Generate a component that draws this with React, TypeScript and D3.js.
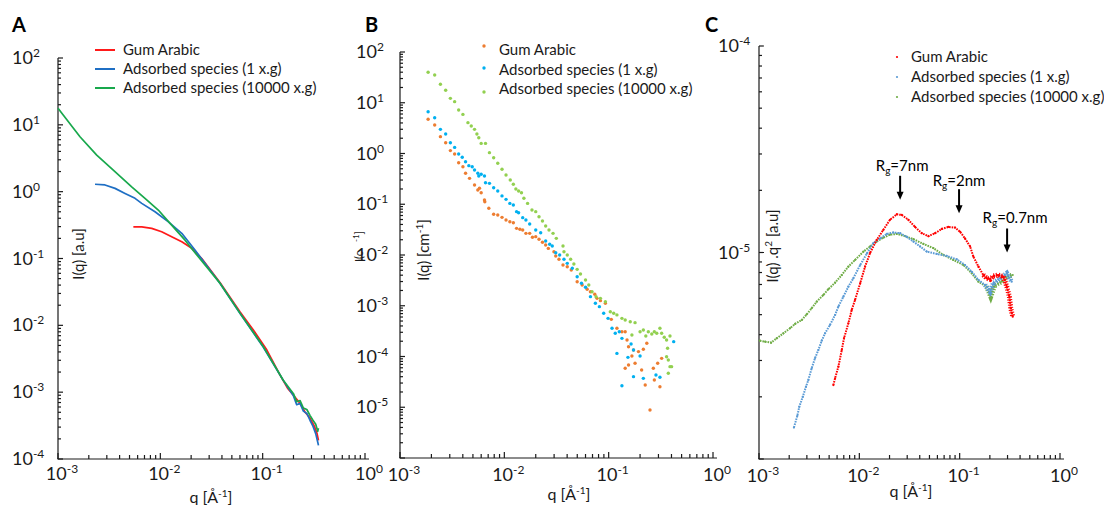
import React from "react";
import * as d3 from "d3";

type Pt = [number, number];

const seriesNames = [
  "Gum Arabic",
  "Adsorbed species (1 x.g)",
  "Adsorbed species (10000 x.g)",
];
const decadeLabels = [-3, -2, -1, 0];

/* A : I(q) [a.u], lines */
const aGumArabic: Pt[] = [
  [0.00545, 0.298], [0.00658, 0.298], [0.00824, 0.282], [0.0103, 0.251], [0.0129, 0.211],
  [0.0162, 0.178], [0.0203, 0.142], [0.0254, 0.1], [0.0384, 0.0435], [0.0602, 0.0158],
  [0.0811, 0.0085], [0.1096, 0.0043], [0.148, 0.0018], [0.175, 0.00115], [0.2, 0.0009],
  [0.232, 0.00068], [0.26, 0.0005], [0.29, 0.00041], [0.32, 0.00031], [0.34, 0.00024],
  [0.351, 0.00019],
];
const aSpecies1: Pt[] = [
  [0.0023, 1.29], [0.00288, 1.26], [0.00361, 1.12], [0.00452, 0.942], [0.00566, 0.794],
  [0.00658, 0.668], [0.00887, 0.5], [0.012, 0.354], [0.0162, 0.238], [0.0218, 0.134],
  [0.0384, 0.0422], [0.0602, 0.015], [0.1016, 0.0047], [0.159, 0.0015], [0.2, 0.00088],
  [0.215, 0.00065], [0.232, 0.00068], [0.25, 0.00052], [0.27, 0.00048], [0.29, 0.00038],
  [0.31, 0.00031], [0.33, 0.00024], [0.345, 0.00018], [0.351, 0.00016],
];
const aSpecies10000: Pt[] = [
  [0.001, 17.7], [0.00164, 6.64], [0.00239, 3.53], [0.00347, 2.1], [0.00525, 1.18],
  [0.00708, 0.794], [0.00955, 0.531], [0.01245, 0.335], [0.01743, 0.188], [0.0235, 0.106],
  [0.0384, 0.0424], [0.0602, 0.0151], [0.1016, 0.00477], [0.159, 0.00151], [0.2, 0.00095],
  [0.215, 0.00072], [0.232, 0.00075], [0.25, 0.00058], [0.27, 0.00055], [0.29, 0.00045],
  [0.31, 0.00038], [0.33, 0.00033], [0.345, 0.00026], [0.351, 0.00029],
];

/* B : I(q) [cm-1], scatter */
const bGumArabic: Pt[] = [
  [0.00186, 4.72], [0.00215, 3.65], [0.00244, 2.15], [0.00274, 1.63], [0.00304, 1.14],
  [0.00334, 0.977], [0.00365, 0.659], [0.00401, 0.55], [0.00425, 0.407], [0.00464, 0.324],
  [0.00518, 0.239], [0.00557, 0.191], [0.00578, 0.206], [0.006, 0.169], [0.00645, 0.121],
  [0.0065, 0.112], [0.0071, 0.0832], [0.0079, 0.0634], [0.00865, 0.0614], [0.0095, 0.0552],
  [0.01038, 0.049], [0.0113, 0.0453], [0.0122, 0.0433], [0.0131, 0.0335], [0.0141, 0.0321],
  [0.015, 0.0311], [0.0161, 0.0267], [0.0175, 0.0267], [0.0186, 0.0223], [0.02, 0.023],
  [0.0215, 0.0204], [0.0232, 0.0178], [0.0249, 0.0157], [0.0264, 0.0135], [0.0299, 0.0116],
  [0.0311, 0.00955], [0.0334, 0.00822], [0.0365, 0.00635], [0.0401, 0.00588], [0.0438, 0.00506],
  [0.0499, 0.00298], [0.0557, 0.00256], [0.0622, 0.00211], [0.0669, 0.00189], [0.0736, 0.00168],
  [0.0774, 0.0014], [0.0834, 0.00126], [0.093, 0.00112], [0.106, 0.00054], [0.12, 0.00036],
  [0.134, 0.000308], [0.144, 0.000308], [0.15, 0.000211], [0.155, 0.000156], [0.173, 0.000134],
  [0.167, 0.000102], [0.193, 0.000125], [0.215, 0.000139], [0.232, 0.000182], [0.144, 0.0000585],
  [0.155, 0.0000681], [0.179, 0.0000735], [0.207, 0.0000542], [0.224, 0.0000274], [0.268, 0.0000585],
  [0.274, 0.0000344], [0.295, 0.0000735], [0.31, 0.0000254], [0.322, 0.000092], [0.249, 0.0000088],
];
const bSpecies1: Pt[] = [
  [0.00186, 6.67], [0.00215, 5.08], [0.00244, 2.99], [0.00274, 2.42], [0.00304, 1.63],
  [0.00334, 1.32], [0.00365, 0.977], [0.00395, 0.841], [0.00425, 0.69], [0.00457, 0.576],
  [0.00492, 0.55], [0.00518, 0.473], [0.00557, 0.407], [0.00569, 0.36], [0.006, 0.389],
  [0.00645, 0.36], [0.0066, 0.266], [0.0072, 0.258], [0.0079, 0.212], [0.00865, 0.182],
  [0.0095, 0.146], [0.01038, 0.125], [0.0113, 0.104], [0.0122, 0.0966], [0.0131, 0.0715],
  [0.0137, 0.0682], [0.015, 0.0545], [0.0161, 0.049], [0.0175, 0.0408], [0.02, 0.0311],
  [0.0223, 0.0275], [0.0249, 0.0189], [0.0272, 0.0163], [0.0288, 0.015], [0.0311, 0.0111],
  [0.0339, 0.01], [0.0373, 0.00822], [0.0401, 0.00685], [0.0448, 0.00547], [0.0499, 0.00374],
  [0.0549, 0.00277], [0.06, 0.00231], [0.0669, 0.00151], [0.0746, 0.00112], [0.0815, 0.00096],
  [0.0896, 0.00071], [0.0986, 0.000565], [0.1077, 0.00036], [0.1157, 0.000287], [0.1264, 0.000308],
  [0.134, 0.000228], [0.12, 0.000115], [0.153, 0.0000962], [0.164, 0.000176], [0.173, 0.000134],
  [0.2, 0.000102], [0.173, 0.0000401], [0.215, 0.0000371], [0.134, 0.0000266], [0.284, 0.0000432],
  [0.31, 0.0000389], [0.42, 0.000196],
];
const bSpecies10000: Pt[] = [
  [0.00186, 39.8], [0.00215, 35.2], [0.00244, 23.1], [0.00274, 17.6], [0.00304, 12.2],
  [0.00334, 10.5], [0.00365, 7.2], [0.00401, 5.9], [0.00448, 4.05], [0.00482, 3.48],
  [0.00518, 2.99], [0.00546, 2.42], [0.00569, 2.05], [0.006, 1.58], [0.0066, 1.58],
  [0.0072, 1.04], [0.0079, 0.827], [0.00865, 0.641], [0.0095, 0.489], [0.01038, 0.377],
  [0.0114, 0.301], [0.0122, 0.247], [0.0129, 0.2], [0.0137, 0.182], [0.0146, 0.169],
  [0.0154, 0.131], [0.0167, 0.104], [0.0184, 0.077], [0.02, 0.0715], [0.0215, 0.0569],
  [0.0232, 0.0468], [0.0249, 0.0372], [0.0268, 0.0311], [0.0293, 0.0267], [0.0315, 0.0213],
  [0.0365, 0.015], [0.0373, 0.0116], [0.0401, 0.01], [0.0432, 0.00822], [0.0464, 0.00665],
  [0.0499, 0.00522], [0.0537, 0.00423], [0.06, 0.00322], [0.0645, 0.00256], [0.0693, 0.00189],
  [0.0757, 0.00151], [0.0834, 0.0014], [0.093, 0.0012], [0.1037, 0.00076], [0.1117, 0.00071],
  [0.12, 0.00066], [0.134, 0.000565], [0.144, 0.000524], [0.161, 0.000485], [0.179, 0.000464],
  [0.167, 0.000265], [0.2, 0.000308], [0.215, 0.000333], [0.227, 0.000254], [0.24, 0.000308],
  [0.259, 0.000277], [0.274, 0.000308], [0.289, 0.000287], [0.31, 0.00036], [0.322, 0.000287],
  [0.341, 0.000239], [0.359, 0.000211], [0.387, 0.000254], [0.367, 0.000145], [0.359, 0.0000991],
  [0.373, 0.0000853], [0.387, 0.0000631], [0.373, 0.0000467], [0.401, 0.0000631],
];

/* C : I(q).q^2 [a.u] */
const cGumArabic: Pt[] = [
  [0.00551, 2.28e-6], [0.00573, 2.46e-6], [0.00618, 2.8e-6], [0.00668, 3.37e-6], [0.00704, 3.85e-6],
  [0.00777, 4.54e-6], [0.0084, 5.27e-6], [0.00906, 5.89e-6], [0.0102, 7.1e-6], [0.0114, 8.54e-6],
  [0.0128, 9.95e-6], [0.0149, 1.15e-5], [0.0173, 1.285e-5], [0.0202, 1.44e-5], [0.0236, 1.53e-5],
  [0.0265, 1.52e-5], [0.0308, 1.44e-5], [0.0359, 1.33e-5], [0.0419, 1.24e-5], [0.0488, 1.2e-5],
  [0.0569, 1.24e-5], [0.0663, 1.3e-5], [0.0771, 1.33e-5], [0.09, 1.32e-5], [0.101, 1.26e-5],
  [0.113, 1.17e-5], [0.127, 1.07e-5], [0.137, 9.55e-6], [0.154, 8.54e-6], [0.172, 7.78e-6],
  [0.186, 7.5e-6], [0.201, 7.41e-6], [0.217, 7.69e-6], [0.243, 7.78e-6], [0.273, 7.64e-6],
  [0.295, 6.83e-6], [0.313, 6.11e-6], [0.323, 5.37e-6], [0.338, 4.89e-6],
];
const cSpecies1: Pt[] = [
  [0.00223, 1.42e-6], [0.00241, 1.62e-6], [0.00252, 1.79e-6], [0.00273, 2.0e-6], [0.00294, 2.24e-6],
  [0.0031, 2.41e-6], [0.00335, 2.75e-6], [0.00362, 3.08e-6], [0.0039, 3.37e-6], [0.00422, 3.74e-6],
  [0.00455, 4.06e-6], [0.0051, 4.46e-6], [0.00573, 4.98e-6], [0.00618, 5.47e-6], [0.00693, 6.11e-6],
  [0.00777, 6.83e-6], [0.00871, 7.5e-6], [0.0102, 8.7e-6], [0.0119, 9.9e-6], [0.0138, 1.11e-5],
  [0.0161, 1.17e-5], [0.0188, 1.23e-5], [0.0218, 1.25e-5], [0.0255, 1.24e-5], [0.0297, 1.19e-5],
  [0.0346, 1.13e-5], [0.0403, 1.07e-5], [0.047, 1.01e-5], [0.0592, 9.84e-6], [0.0743, 9.62e-6],
  [0.0936, 9.27e-6], [0.113, 8.7e-6], [0.132, 8.07e-6], [0.154, 7.36e-6], [0.179, 6.97e-6],
  [0.201, 6.46e-6], [0.217, 7.1e-6], [0.253, 7.5e-6], [0.295, 7.93e-6], [0.33, 7.22e-6],
];
const cSpecies10000: Pt[] = [
  [0.00102, 3.74e-6], [0.00115, 3.7e-6], [0.00132, 3.66e-6], [0.0015, 3.84e-6], [0.00175, 4.06e-6],
  [0.00204, 4.3e-6], [0.00229, 4.51e-6], [0.00267, 4.71e-6], [0.00299, 5.02e-6], [0.00335, 5.37e-6],
  [0.00376, 5.78e-6], [0.00438, 6.23e-6], [0.00491, 6.64e-6], [0.00573, 7.14e-6], [0.00668, 7.78e-6],
  [0.00777, 8.54e-6], [0.00906, 9.2e-6], [0.011, 1.01e-5], [0.0128, 1.07e-5], [0.0149, 1.13e-5],
  [0.0173, 1.18e-5], [0.0202, 1.22e-5], [0.0236, 1.23e-5], [0.0286, 1.2e-5], [0.0346, 1.16e-5],
  [0.0435, 1.1e-5], [0.0547, 1.05e-5], [0.0688, 9.73e-6], [0.0865, 9.2e-6], [0.109, 8.7e-6],
  [0.132, 7.93e-6], [0.154, 7.22e-6], [0.186, 6.83e-6], [0.204, 6.11e-6], [0.225, 6.97e-6],
  [0.263, 7.22e-6], [0.295, 7.64e-6], [0.338, 7.78e-6],
];
const cPeaks = [
  { q: 0.0255, tip: 1.8e-5, rg: "7nm", dx: 2, dy: -29 },
  { q: 0.0986, tip: 1.55e-5, rg: "2nm", dx: 0, dy: -27 },
  { q: 0.297, tip: 1.0e-5, rg: "0.7nm", dx: 8, dy: -30 },
];

const font = "Lato, 'Open Sans', sans-serif";
const ink = "#1a1a1a";

function decadeTicks([lo, hi]: number[]) {
  const out: [number, boolean][] = [];
  const e0 = Math.round(Math.log10(lo));
  const e1 = Math.round(Math.log10(hi));
  for (let e = e0; e < e1; e++) for (let m = 1; m < 10; m++) out.push([m * 10 ** e, m === 1]);
  out.push([hi, true]);
  return out;
}

function power(sel: any, exp: number) {
  sel.append("tspan").attr("font-size", 18).text("10");
  sel.append("tspan").attr("font-size", 12).attr("dy", -7).text(exp < 0 ? `-${-exp}` : `${exp}`);
}

function frame(svg: any, x: any, y: any, yExps: number[], yLabelX: number, xLabelDy: number) {
  const [xl, xr] = x.range();
  const [yb, yt] = y.range();
  const g = svg.append("g").attr("stroke", ink).attr("stroke-width", 1.2);
  g.append("line").attr("x1", xl).attr("x2", xl).attr("y1", yt).attr("y2", yb);
  g.append("line").attr("x1", xl - 0.6).attr("x2", xr + 4).attr("y1", yb).attr("y2", yb);
  decadeTicks(y.domain()).forEach(([v, major]) =>
    g.append("line").attr("x1", xl).attr("x2", xl + (major ? 5 : 3)).attr("y1", y(v)).attr("y2", y(v))
  );
  decadeTicks(x.domain()).forEach(([v, major]) =>
    g.append("line").attr("x1", x(v)).attr("x2", x(v)).attr("y1", yb).attr("y2", yb - (major ? 6 : 4))
  );
  yExps.forEach((e) => {
    const t = svg.append("text").attr("x", yLabelX).attr("y", y(10 ** e) + 6).attr("fill", ink);
    power(t, e);
  });
  decadeLabels.forEach((e) => {
    const t = svg
      .append("text")
      .attr("x", x(10 ** e) + 4)
      .attr("y", yb + xLabelDy)
      .attr("text-anchor", "middle")
      .attr("fill", ink);
    power(t, e);
  });
}

function qLabel(svg: any, cx: number, by: number) {
  const t = svg.append("text").attr("x", cx).attr("y", by).attr("text-anchor", "middle").attr("font-size", 16).attr("fill", ink);
  t.append("tspan").text("q [Å");
  t.append("tspan").attr("font-size", 10).attr("dy", -6).text("-1");
  t.append("tspan").attr("dy", 6).text("]");
}

function yTitle(svg: any, x: number, cy: number, parts: [string, boolean][]) {
  const t = svg
    .append("text")
    .attr("transform", `translate(${x},${cy}) rotate(-90)`)
    .attr("text-anchor", "middle")
    .attr("font-size", 15)
    .attr("fill", ink);
  parts.forEach(([s, sup]) =>
    t.append("tspan").attr("font-size", sup ? 10 : 15).attr("dy", sup ? -6 : 0).text(s)
  );
  return t;
}

export default function App() {
  const svgRef = React.useRef<SVGSVGElement>(null);

  React.useEffect(() => {
    const svg = d3.select(svgRef.current);
    svg.selectAll("*").remove();
    svg.attr("font-family", font);

    /* panel letters */
    [["A", 12], ["B", 365], ["C", 705]].forEach(([s, x]) =>
      svg.append("text").attr("x", x).attr("y", 32).attr("font-size", 20).attr("font-weight", "bold").attr("fill", "#000").text(s as string)
    );

    /* ---------- A ---------- */
    const xA = d3.scaleLog().domain([1e-3, 1]).range([58, 365]);
    const yA = d3.scaleLog().domain([1e-4, 1e2]).range([459, 58]);
    frame(svg, xA, yA, [-4, -3, -2, -1, 0, 1, 2], 12, 21);
    const lineA = d3.line<Pt>().x((d) => xA(d[0])).y((d) => yA(d[1]));
    const aSeries: [Pt[], string][] = [
      [aGumArabic, "#ff1a1a"],
      [aSpecies1, "#1f6fc4"],
      [aSpecies10000, "#18a84c"],
    ];
    aSeries.forEach(([data, c]) =>
      svg.append("path").attr("d", lineA(data)).attr("fill", "none").attr("stroke", c).attr("stroke-width", 1.7).attr("stroke-linejoin", "round")
    );
    aSeries.forEach(([, c], i) => {
      const yy = 50 + i * 19;
      svg.append("line").attr("x1", 95).attr("x2", 115).attr("y1", yy).attr("y2", yy).attr("stroke", c).attr("stroke-width", 2);
      svg.append("text").attr("x", 123).attr("y", yy + 5).attr("font-size", 15).attr("fill", ink).text(seriesNames[i]);
    });
    yTitle(svg, 84, 254, [["I(q) [a.u]", false]]);
    qLabel(svg, 211, 503);

    /* ---------- B ---------- */
    const xB = d3.scaleLog().domain([1e-3, 1]).range([400, 713]);
    const yB = d3.scaleLog().domain([1e-6, 1e2]).range([458, 52]);
    frame(svg, xB, yB, [-5, -4, -3, -2, -1, 0, 1, 2], 356, 23);
    const bSeries: [Pt[], string][] = [
      [bGumArabic, "#ed7d31"],
      [bSpecies1, "#00b0f0"],
      [bSpecies10000, "#92d050"],
    ];
    bSeries.forEach(([data, c]) =>
      svg
        .append("g")
        .selectAll("circle")
        .data(data)
        .enter()
        .append("circle")
        .attr("cx", (d) => xB(d[0]))
        .attr("cy", (d) => yB(d[1]))
        .attr("r", 1.7)
        .attr("fill", c)
    );
    bSeries.forEach(([, c], i) => {
      svg.append("circle").attr("cx", 484).attr("cy", [46, 68, 92][i]).attr("r", 1.7).attr("fill", c);
      svg.append("text").attr("x", 499).attr("y", 55 + i * 19.5).attr("font-size", 15).attr("fill", ink).text(seriesNames[i]);
    });
    yTitle(svg, 429, 250, [["I(q) [cm", false], ["-1", true], ["]", false]]).select("tspan:last-child").attr("dy", 6);
    // clipped duplicate of the axis title left of the axis
    const ghost = svg.append("text").attr("transform", "translate(363,262) rotate(-90)").attr("font-size", 11).attr("fill", ink);
    ghost.append("tspan").text("I(c");
    ghost.append("tspan").attr("dx", 9).attr("font-size", 8).attr("dy", -4).text("-1");
    ghost.append("tspan").attr("dy", 4).text("]");
    qLabel(svg, 569, 500);

    /* ---------- C ---------- */
    const xC = d3.scaleLog().domain([1e-3, 1]).range([759, 1060]);
    const yC = d3.scaleLog().domain([1e-6, 1e-4]).range([459, 46]);
    frame(svg, xC, yC, [-4, -5], 718, 23);
    const lineC = d3.line<Pt>().x((d) => xC(d[0])).y((d) => yC(d[1]));
    const cSeries: [Pt[], string][] = [
      [cGumArabic, "#ff0000"],
      [cSpecies1, "#5b9bd5"],
      [cSpecies10000, "#70ad47"],
    ];
    [2, 1, 0].forEach((i) => {
      const [data, c] = cSeries[i];
      svg.append("path").attr("d", lineC(data)).attr("fill", "none").attr("stroke", c).attr("stroke-width", 2).attr("stroke-dasharray", "1.6 1");
      // noisy high-q end drawn as a wider speckled band
      svg
        .append("path")
        .attr("d", lineC(data.filter((d) => d[0] >= 0.17)))
        .attr("fill", "none")
        .attr("stroke", c)
        .attr("stroke-width", 5)
        .attr("stroke-dasharray", "1.2 1.4");
      svg
        .append("g")
        .selectAll("circle")
        .data(data)
        .enter()
        .append("circle")
        .attr("cx", (d) => xC(d[0]))
        .attr("cy", (d) => yC(d[1]))
        .attr("r", 1.1)
        .attr("fill", c);
    });
    cSeries.forEach(([, c], i) => {
      const yy = 57 + i * 20;
      svg.append("circle").attr("cx", 897).attr("cy", yy).attr("r", 1.1).attr("fill", c);
      svg.append("text").attr("x", 911).attr("y", yy + 5).attr("font-size", 15).attr("fill", ink).text(seriesNames[i]);
    });
    cPeaks.forEach((p) => {
      const px = xC(p.q);
      const tip = yC(p.tip);
      svg.append("line").attr("x1", px).attr("x2", px).attr("y1", tip - 24).attr("y2", tip - 7).attr("stroke", "#000").attr("stroke-width", 2);
      svg.append("path").attr("d", `M${px - 3.5},${tip - 8}L${px + 3.5},${tip - 8}L${px},${tip}Z`).attr("fill", "#000");
      const t = svg.append("text").attr("x", px + p.dx).attr("y", tip + p.dy).attr("text-anchor", "middle").attr("font-size", 15).attr("fill", "#000");
      t.append("tspan").text("R");
      t.append("tspan").attr("font-size", 10).attr("dy", 3).text("g");
      t.append("tspan").attr("dy", -3).text("=" + p.rg);
    });
    yTitle(svg, 778, 246, [["I(q) .q", false], ["2", true], [" [a.u]", false]]).select("tspan:last-child").attr("dy", 6);
    qLabel(svg, 911, 497);
  }, []);

  return <svg ref={svgRef} width={1104} height={505} style={{ position: "absolute", left: 0, top: 0, background: "#fff" }} />;
}
